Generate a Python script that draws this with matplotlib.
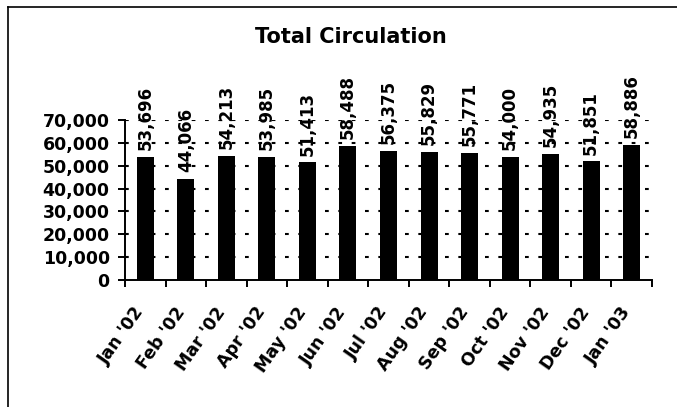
import matplotlib
matplotlib.use("Agg")
import matplotlib.pyplot as plt
import numpy as np
from matplotlib.lines import Line2D
from matplotlib.ticker import FuncFormatter, FixedLocator, NullFormatter
from matplotlib.transforms import ScaledTranslation

plt.rcParams['font.family'] = ['DejaVu Sans']

categories = ["Jan '02", "Feb '02", "Mar '02", "Apr '02", "May '02", "Jun '02",
              "Jul '02", "Aug '02", "Sep '02", "Oct '02", "Nov '02", "Dec '02", "Jan '03"]
values = [53696, 44066, 54213, 53985, 51413, 58488, 56375, 55829, 55771, 54000,
          54935, 51851, 58886]
y_ticks = [0, 10000, 20000, 30000, 40000, 50000, 60000, 70000]
title = "Total Circulation"

W, H = 677, 407
fig = plt.figure(figsize=(W / 100, H / 100), dpi=100)
ax = fig.add_axes([125 / W, 1 - 280 / H, (652 - 125) / W, 160 / H])

x = np.arange(len(categories))
ax.bar(x, values, width=0.42, color='black', zorder=3)
ax.set_xlim(-0.5, len(categories) - 0.5)
ax.set_ylim(0, 70000)

# gridlines
for yv in y_ticks[1:]:
    ax.axhline(yv, color='black', lw=1.5, linestyle=(0, (1.8, 4.6)), zorder=1)

# value labels
for xi, v in zip(x, values):
    ax.annotate(f"{v:,}", (xi, v), xytext=(0, 5), textcoords='offset points',
                rotation=90, ha='center', va='bottom', fontsize=12,
                fontweight='bold', clip_on=False, annotation_clip=False)

# spines
for s in ['top', 'right']:
    ax.spines[s].set_visible(False)
for s in ['left', 'bottom']:
    ax.spines[s].set_linewidth(1.4)

ax.set_yticks(y_ticks)
ax.yaxis.set_major_formatter(FuncFormatter(lambda v, p: f"{int(v):,}"))
ax.tick_params(axis='y', direction='out', length=5, width=1.4, pad=6,
               labelsize=12.5)
for lab in ax.get_yticklabels():
    lab.set_fontweight('bold')

# x ticks at category boundaries, labels at centers
ax.xaxis.set_major_locator(FixedLocator(np.arange(len(categories) + 1) - 0.5))
ax.xaxis.set_major_formatter(NullFormatter())
ax.xaxis.set_minor_locator(FixedLocator(x))
ax.set_xticklabels(categories, minor=True)
ax.tick_params(axis='x', which='major', direction='out', length=5, width=1.4)
ax.tick_params(axis='x', which='minor', length=0, pad=17, labelsize=12.5)
for lab in ax.get_xticklabels(minor=True):
    lab.set_rotation(55)
    lab.set_ha('right')
    lab.set_va('top')
    lab.set_rotation_mode('anchor')
    lab.set_fontweight('bold')
    lab.set_transform(lab.get_transform() + ScaledTranslation(-12 / 100, 0, fig.dpi_scale_trans))

fig.text(351 / W, 1 - 37 / H, title, ha='center', va='center', fontsize=15,
         fontweight='bold')

# outer frame lines
fig.add_artist(Line2D([8 / W, 8 / W], [0, 1 - 7 / H], color='black', lw=1.2,
                      transform=fig.transFigure))
fig.add_artist(Line2D([8 / W, 1], [1 - 7 / H, 1 - 7 / H], color='black', lw=1.2,
                      transform=fig.transFigure))

fig.savefig("out.png", dpi=100)
